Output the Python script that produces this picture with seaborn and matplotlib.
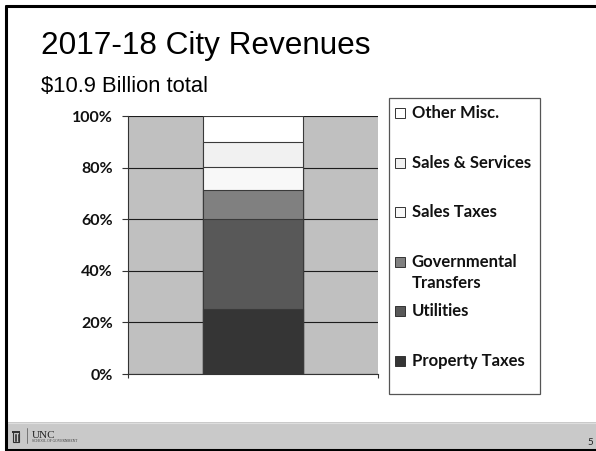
import numpy as np
import pandas as pd
import matplotlib
matplotlib.use("Agg")
import matplotlib.pyplot as plt
from matplotlib.patches import Rectangle
from matplotlib.lines import Line2D
import seaborn as sns

# Revenue sources, bottom of the stack first (share of total, %)
sources = ["Property Taxes", "Utilities", "Governmental Transfers",
           "Sales Taxes", "Sales & Services", "Other Misc."]
shares = [25.2, 34.9, 11.3, 9.0, 9.5, 10.1]
colors = ["#353535", "#585858", "#808080", "#f8f8f8", "#f1f1f1", "#ffffff"]
legend_labels = ["Property Taxes", "Utilities", "Governmental\nTransfers",
                 "Sales Taxes", "Sales & Services", "Other Misc."]
y_ticks = [0, 20, 40, 60, 80, 100]
y_tick_labels = ["0%", "20%", "40%", "60%", "80%", "100%"]

title = "2017-18 City Revenues"
subtitle = "$10.9 Billion total"

sns.set_theme(style="white")
plt.rcParams["font.family"] = ["Lato", "DejaVu Sans"]

W, H = 596, 451
fig = plt.figure(figsize=(W / 100, H / 100), dpi=100)
fig.patch.set_facecolor("white")


def fx(px):
    return px / W


def fy(py):
    return 1 - py / H


ax = fig.add_axes([fx(128), fy(374), fx(378) - fx(128), fy(116) - fy(374)])
ax.set_facecolor("#c0c0c0")

# Stacked column: draw cumulative totals from the top down so each layer covers the one above
df = pd.DataFrame({"source": sources, "share": shares, "color": colors})
df["top"] = df["share"].cumsum()
for _, row in df.iloc[::-1].iterrows():
    sns.barplot(x=[""], y=[row["top"]], color=row["color"], width=0.4,
                edgecolor="#3a3a3a", linewidth=0.8, saturation=1, ax=ax, zorder=3)

ax.set_xlim(-0.5, 0.5)
ax.set_ylim(0, 100)
ax.set_yticks(y_ticks)
ax.set_yticklabels(y_tick_labels, fontweight="bold", fontsize=11.5)
ax.set_xticks([-0.5, 0.5])
ax.set_xticklabels(["", ""])
ax.set_xlabel("")
ax.set_ylabel("")
ax.grid(axis="y", color="#1c1c1c", linewidth=0.8, zorder=1)
ax.set_axisbelow(True)
ax.tick_params(axis="y", direction="out", length=4.3, width=0.8, color="#333333",
               pad=6.5, left=True, labelcolor="#111111")
ax.tick_params(axis="x", direction="out", length=3, width=0.8, color="#333333",
               bottom=True)
for side in ["top", "right"]:
    ax.spines[side].set_visible(False)
for side in ["left", "bottom"]:
    ax.spines[side].set_color("#333333")
    ax.spines[side].set_linewidth(0.8)

# Legend panel
fig.patches.append(Rectangle((fx(389), fy(394)), fx(540) - fx(389), fy(97.5) - fy(394),
                             transform=fig.transFigure, facecolor="white",
                             edgecolor="#555555", linewidth=0.9, zorder=1))
legend_rows = [360.7, 310.7, 262.3, 211.7, 162.7, 113.3]
for label, col, yrow in zip(legend_labels, colors, legend_rows):
    fig.patches.append(Rectangle((fx(394.5), fy(yrow + 5)), fx(10), 10 / H,
                                 transform=fig.transFigure, facecolor=col,
                                 edgecolor="#333333", linewidth=0.7, zorder=2))
    for k, ln in enumerate(label.split("\n")):
        fig.text(fx(411.5), fy(yrow + 21 * k), ln, fontsize=12, fontweight="bold",
                 color="#111111", ha="left", va="center", zorder=3)

# Titles
fig.text(fx(41), fy(54.3), title, fontsize=22.7, family="Liberation Sans",
         ha="left", va="baseline", color="black")
fig.text(fx(41), fy(91.7), subtitle, fontsize=15.8, family="Liberation Sans",
         ha="left", va="baseline", color="black")

# Footer band
fig.patches.append(Rectangle((fx(6), fy(448.5)), 1, fy(422) - fy(448.5),
                             transform=fig.transFigure, facecolor="#c9c9c9",
                             edgecolor="none", zorder=0))
fig.lines.append(Line2D([fx(6), 1], [fy(422.5), fy(422.5)], transform=fig.transFigure,
                        color="#dedede", linewidth=0.8))
# footer emblem
fig.patches.append(Rectangle((fx(13), fy(442)), fx(6), 10 / H, transform=fig.transFigure,
                             facecolor="none", edgecolor="#333333", linewidth=0.8))
fig.patches.append(Rectangle((fx(12), fy(432.5)), fx(8), 2 / H, transform=fig.transFigure,
                             facecolor="#333333", edgecolor="none"))
for px_ in [14.5, 16, 17.5]:
    fig.lines.append(Line2D([fx(px_), fx(px_)], [fy(441), fy(434)], transform=fig.transFigure,
                            color="#333333", linewidth=0.6))
fig.lines.append(Line2D([fx(26.7), fx(26.7)], [fy(428), fy(443)], transform=fig.transFigure,
                        color="#666666", linewidth=0.6))
fig.text(fx(32), fy(438), "UNC", fontsize=8, family="Liberation Serif",
         ha="left", va="baseline", color="#222222")
fig.text(fx(32), fy(442.5), "SCHOOL OF GOVERNMENT", fontsize=2.6, family="Liberation Serif",
         ha="left", va="baseline", color="#333333")
fig.text(fx(593), fy(445), "5", fontsize=7, ha="right", va="baseline", color="#222222")

# Slide border
fig.lines.append(Line2D([fx(5.5), fx(5.5)], [fy(6), fy(449.5)], transform=fig.transFigure,
                        color="black", linewidth=2.2))
fig.lines.append(Line2D([fx(5.5), 1], [fy(6), fy(6)], transform=fig.transFigure,
                        color="black", linewidth=2.2))
fig.lines.append(Line2D([fx(5.5), 1], [fy(449.5), fy(449.5)], transform=fig.transFigure,
                        color="black", linewidth=2.2))

fig.savefig("out.png", dpi=100)
